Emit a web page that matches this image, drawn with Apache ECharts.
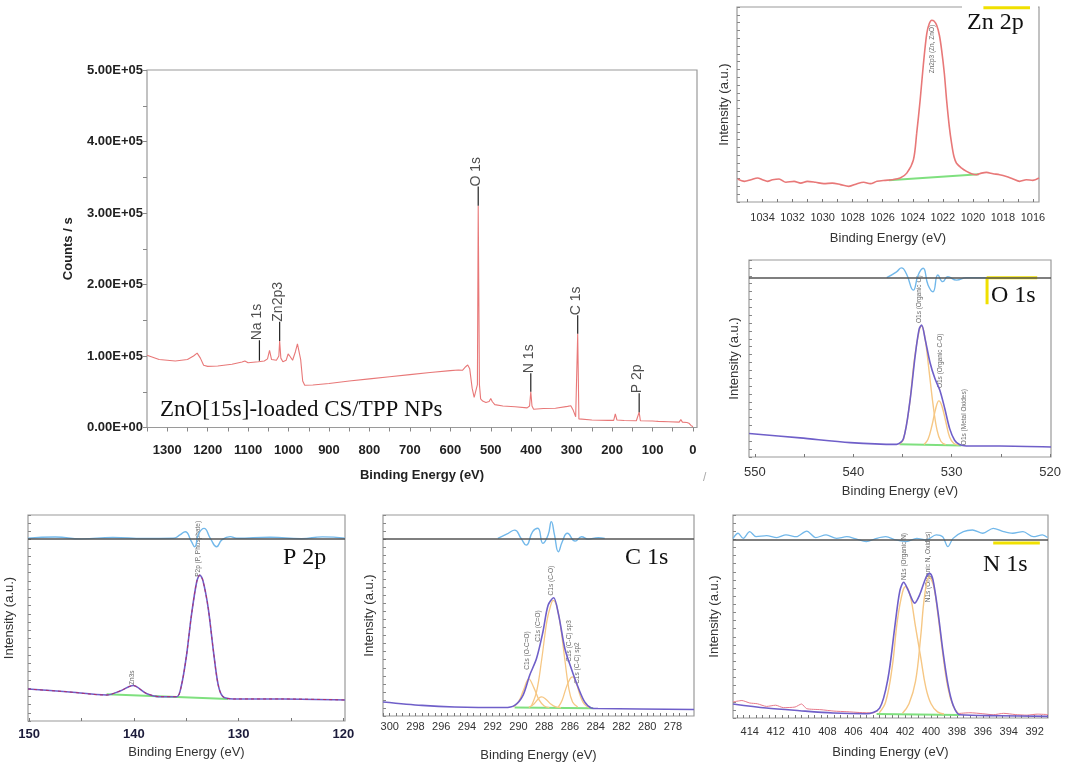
<!DOCTYPE html>
<html>
<head>
<meta charset="utf-8">
<script src="https://cdn.jsdelivr.net/npm/echarts@6/dist/echarts.min.js"></script>
<style>
  html, body { margin: 0; padding: 0; background: #fff; }
  #chart { width: 1065px; height: 766px; }
</style>
</head>
<body>
<div id="chart"></div>
<script>
// ---- survey spectrum (eV, counts/s) ----
const surveyData = [
  [1350, 101000], [1320, 95000], [1280, 93000], [1250, 95000], [1235, 100000], [1226, 104000],
  [1218, 97000], [1210, 87000], [1200, 85500], [1175, 86000], [1140, 88500], [1115, 91500],
  [1108, 93000], [1100, 90500], [1075, 92000], [1072, 93500], [1060, 93000], [1052, 96000],
  [1047, 108000], [1042, 95000], [1030, 94000], [1024, 100000], [1022, 121000], [1019, 97000],
  [1014, 92000], [1006, 94000], [1001, 103000], [997, 100000], [990, 94000], [983, 106000],
  [978, 117000], [974, 115000], [970, 95000], [965, 65000], [960, 59000], [940, 59500],
  [900, 61500], [850, 65000], [800, 68000], [750, 71000], [700, 74000], [650, 77000],
  [600, 79500], [580, 80500], [570, 80000], [562, 85000], [557, 87500], [552, 82000],
  [546, 55000], [541, 42000], [537, 40000], [533, 60000], [531, 310000], [528, 60000],
  [525, 40000], [520, 37000], [512, 35000], [504, 36500], [500, 40500], [496, 36000],
  [490, 32000], [470, 30000], [440, 29000], [410, 27500], [404, 30000], [401, 50000],
  [398, 30000], [394, 25500], [370, 26500], [340, 27000], [310, 29500], [302, 30500],
  [296, 24000], [290, 15000], [287, 14000], [285, 131000], [282, 12000], [278, 11000],
  [250, 10500], [210, 10000], [196, 10000], [192, 19000], [188, 10500], [170, 9800],
  [140, 9500], [136, 10500], [133, 21500], [130, 9500], [100, 9000], [92, 8800],
  [89, 10500], [86, 8500], [60, 8000], [34, 7500], [30, 11000], [26, 7500],
  [15, 7000], [10, 6000], [5, 3000], [0, 1000]
];
// peak markers: name, eV, line bottom, line top
const surveyMarks = [
  ['Na 1s', 1072, 93500, 122000],
  ['Zn2p3', 1022, 121000, 148000],
  ['O 1s', 531, 310000, 337000],
  ['N 1s', 401, 50000, 76000],
  ['C 1s', 285, 131000, 157000],
  ['P 2p', 133, 21500, 48000]
];
const surveyXTicks = [1300, 1200, 1100, 1000, 900, 800, 700, 600, 500, 400, 300, 200, 100, 0];
const surveyYTicks = [0, 100000, 200000, 300000, 400000, 500000];
const surveyYLabels = ['0.00E+00', '1.00E+05', '2.00E+05', '3.00E+05', '4.00E+05', '5.00E+05'];

// ---- Zn 2p ----
const znData = [
  [1035.66, 11.8], [1035.21, 10.6], [1034.77, 11.4], [1034.33, 12.3], [1034.0, 11.4], [1033.67, 10.6],
  [1033.34, 11.4], [1032.9, 11.8], [1032.45, 10.1], [1031.9, 10.6], [1031.46, 9.7], [1031.02, 10.6],
  [1030.47, 10.1], [1029.92, 9.4], [1029.36, 9.7], [1028.81, 8.9], [1028.26, 8.0], [1027.71, 9.4],
  [1027.27, 10.1], [1026.83, 9.4], [1026.38, 10.6], [1025.83, 11.1], [1025.39, 11.4], [1024.84, 12.3],
  [1024.4, 14.8], [1023.96, 21.6], [1023.74, 35.3], [1023.51, 52.3], [1023.29, 71], [1023.07, 86.4],
  [1022.9, 91.5], [1022.74, 93.2], [1022.59, 92.8], [1022.41, 90.6], [1022.23, 85.5], [1022.08, 77.9],
  [1021.9, 65.9], [1021.75, 52.3], [1021.57, 38.7], [1021.42, 30.2], [1021.26, 23.3], [1021.09, 19.9],
  [1020.75, 17.4], [1020.42, 15.7], [1020.09, 14.5], [1019.76, 14.0], [1019.43, 14.8], [1019.1, 15.2],
  [1018.66, 14.5], [1018.22, 14.0], [1017.77, 13.1], [1017.33, 11.8], [1016.89, 10.6], [1016.45, 11.4],
  [1016.01, 11.1], [1015.6, 12.3]
];
const znBase = [[1025.6, 11.2], [1019.6, 14.2]];
const znYellow = [[1019.3, 99.6], [1016.2, 99.6]];
const znXTicks = [1034, 1032, 1030, 1028, 1026, 1024, 1022, 1020, 1018, 1016];
const znLabels = [['Zn2p3 (Zn, ZnO)', 1022.6, 66]];

// ---- O 1s ----
const oEnvelope = [
  [550.58, 11.9], [545.4, 9.7], [540.3, 7.3], [535.6, 6.4], [534.9, 9.3], [534.25, 28],
  [533.7, 51.7], [533.3, 65], [533.05, 67], [532.7, 60], [532.2, 48], [531.7, 39.8],
  [531.2, 33.9], [530.7, 24.6], [530.2, 14.4], [529.7, 8.5], [529.2, 6.3], [528.5, 5.6],
  [525.1, 5.6], [519.9, 5.1]
];
const oComp1 = [
  [535.3, 6.5], [534.9, 9], [534.3, 26], [533.8, 49], [533.3, 64], [533.05, 66.5], [532.7, 60],
  [532.3, 44], [531.9, 27], [531.5, 14], [531.1, 8], [530.6, 6.3]
];
const oComp2 = [
  [532.8, 6.3], [532.4, 9], [532.0, 16], [531.6, 25], [531.3, 28.5], [531.0, 26], [530.6, 18],
  [530.2, 10], [529.8, 7], [529.3, 6]
];
const oBase = [[535.3, 6.5], [529.0, 5.8]];
const oResid = [
  [536.6, 91], [535.6, 94], [535.1, 96], [534.6, 93], [533.9, 84.7], [533.4, 92.4], [532.9, 95.8],
  [532.4, 87.3], [531.9, 83.9], [531.4, 92.4], [530.9, 89], [530.4, 91.5], [529.5, 89.8],
  [528.5, 91], [526.4, 91]
];
const oZero = 91;
const oYellow = [[526.4, 77.5], [526.4, 91], [521.3, 91]];
const oXTicks = [550, 540, 530, 520];
const oLabels = [['O1s (Organic O)', 533.05, 68], ['O1s (Organic C-O)', 531.0, 35], ['O1s (Metal Oxides)', 528.5, 6]];

// ---- P 2p ----
const pEnvelope = [
  [150.1, 15.5], [146.4, 14.2], [142.6, 12.6], [141.3, 14.6], [140.07, 17.2], [138.8, 13.4],
  [137.5, 11.8], [135.9, 11.8], [135.45, 17.5], [134.97, 32], [134.5, 51.5], [134.0, 67.6],
  [133.7, 70.9], [133.4, 68], [132.9, 54.7], [132.4, 33.7], [131.95, 17.5], [131.5, 11.8],
  [130.5, 10.7], [125.7, 10.7], [119.85, 10.2]
];
const pBase = [[142.6, 13], [131.0, 10.7]];
const pResid = [
  [150.1, 88.7], [147.5, 89.3], [145, 88.4], [142, 89.1], [139, 88.6], [136.25, 88.7],
  [135.6, 90.3], [135.1, 91.9], [134.5, 87.1], [134.2, 84.6], [133.8, 91], [133.3, 93.5],
  [132.7, 88.7], [132.1, 84.6], [131.6, 87.9], [130.8, 89.5], [130.2, 88.7], [127, 89.2],
  [124, 88.5], [122, 89.4], [119.85, 88.7]
];
const pZero = 88.7;
const pXTicks = [150, 140, 130, 120];
const pLabels = [['Zn3s', 140.0, 17.5], ['P2p (P, Phosphate)', 133.7, 70]];

// ---- C 1s ----
const cEnvelope = [
  [300.52, 7], [297.5, 5.3], [294.96, 4.5], [291.07, 4.2], [290.3, 5.3], [289.65, 10.3],
  [289.13, 20.3], [288.6, 28.6], [288.1, 41.9], [287.7, 55.1], [287.27, 58.8], [286.88, 50.2],
  [286.4, 33.6], [285.9, 23.6], [285.43, 15.3], [284.86, 7], [284.34, 4], [283.83, 3.7],
  [276.37, 3.2]
];
const cComp1 = [[290.4, 4.5], [290.0, 7], [289.6, 13], [289.2, 18.5], [288.8, 14], [288.4, 8], [288.0, 5], [287.6, 4.2]];
const cComp2 = [[289.2, 4.3], [288.8, 6], [288.4, 9], [288.2, 9.5], [287.9, 8.5], [287.5, 6], [287.1, 4.5], [286.7, 4.2]];
const cComp3 = [
  [289.0, 5], [288.6, 12], [288.2, 28], [287.8, 47], [287.5, 55], [287.3, 57.5], [287.0, 54],
  [286.7, 43], [286.4, 28], [286.1, 14], [285.8, 7], [285.4, 4.5]
];
const cComp4 = [[286.9, 4.5], [286.6, 8], [286.3, 14], [286.0, 18.5], [285.8, 19.5], [285.5, 16], [285.2, 10], [284.9, 6], [284.5, 4]];
const cBase = [[290.3, 4.2], [284.2, 3.8]];
const cResid = [
  [291.6, 88.4], [290.8, 90.9], [290.3, 92.5], [289.8, 88.4], [289.4, 85], [288.9, 91.7],
  [288.5, 93.4], [288.1, 85.9], [287.7, 90], [287.45, 96.7], [287.2, 90], [286.9, 81.7],
  [286.6, 86.7], [286.2, 90.9], [285.6, 87], [285.1, 89.2], [284.6, 88], [283.8, 88.7], [283.3, 88.4]
];
const cZero = 88.4;
const cXTicks = [300, 298, 296, 294, 292, 290, 288, 286, 284, 282, 280, 278];
const cLabels = [
  ['C1s (O-C=O)', 289.2, 23], ['C1s (C=O)', 288.3, 37], ['C1s (C-O)', 287.3, 60],
  ['C1s (C-C) sp3', 285.9, 27], ['C1s (C-C) sp2', 285.3, 16]
];

// ---- N 1s ----
const nEnvelope = [
  [415.29, 6.9], [412.72, 4.9], [410.14, 3.6], [407.57, 2.5], [405.0, 2.1], [403.97, 4.9],
  [403.32, 19.7], [402.81, 44.3], [402.42, 62.3], [402.11, 66.9], [401.78, 63.1], [401.26, 56.6],
  [400.88, 60.7], [400.36, 69.7], [400.11, 71.3], [399.85, 68], [399.47, 52.5], [399.08, 32.8],
  [398.69, 16.4], [398.31, 6.6], [397.79, 1.6], [394.7, 1.1], [390.97, 0.8]
];
// raw counts visible outside the peak (left and right tails)
const nRawLeft = [
  [415.29, 7.9], [414.6, 8.6], [414.0, 7.4], [413.4, 7.0], [412.7, 5.7], [412.0, 6.3], [411.4, 5.1],
  [410.5, 5.4], [410.0, 6.9], [409.6, 4.6], [408.5, 4.1], [407.5, 3.4], [406.5, 3.1], [405.5, 2.7],
  [404.5, 2.5], [404.1, 3.6]
];
const nRawRight = [
  [397.9, 2.2], [397.0, 2.6], [396.0, 2.1], [395.2, 1.6], [394.4, 2.3],
  [393.5, 1.7], [392.6, 1.4], [391.8, 1.9], [390.97, 1.7]
];
const nComp1 = [
  [404.0, 2.5], [403.5, 8], [403.0, 25], [402.6, 48], [402.2, 62], [401.95, 64.8], [401.6, 60],
  [401.2, 45], [400.8, 30], [400.4, 15], [400.0, 7], [399.5, 3], [399.0, 2]
];
const nComp2 = [
  [402.2, 2.3], [401.7, 7], [401.2, 18], [400.8, 40], [400.5, 60], [400.15, 69.5], [399.8, 65],
  [399.45, 50], [399.1, 32], [398.7, 15], [398.3, 6], [397.9, 2.2]
];
const nBase = [[404.2, 2.0], [397.8, 1.5]];
const nResid = [
  [415.29, 88.5], [414.9, 91.0], [414.5, 88.5], [414.0, 91.8], [413.5, 89.3], [412.7, 89.8],
  [411.9, 88.9], [411.2, 90.2], [410.4, 89.3], [409.6, 92.1], [408.9, 88.9], [408.1, 90.2],
  [407.3, 88.5], [406.5, 89.3], [405.8, 88.2], [405.0, 86.9], [404.2, 88.5], [403.5, 89.3],
  [402.7, 87.7], [401.9, 86.9], [401.1, 88.5], [400.4, 87.7], [399.6, 90.2], [399.1, 89.3],
  [398.7, 84.4], [398.3, 88.5], [397.5, 91.8], [396.8, 92.6], [396.0, 91.0], [395.2, 93.4],
  [394.4, 91.8], [393.7, 91.0], [392.9, 91.8], [392.1, 89.3], [391.4, 90.2], [391.0, 88.9]
];
const nZero = 87.7;
const nYellow = [[395.2, 86.2], [391.6, 86.2]];
const nXTicks = [414, 412, 410, 408, 406, 404, 402, 400, 398, 396, 394, 392];
const nLabels = [['N1s (Organic N)', 401.95, 68], ['N1s (Organic N, Oxides)', 400.1, 57]];

// ---- colours ----
const RED = '#e87878';
const GREEN = '#7fe07f';
const PURPLE = '#6f5fc9';
const ORANGE = '#f6c784';
const BLUE = '#72b8ea';
const ZERO = '#555';

function range(a, b, step) {
  const out = [];
  const n = Math.round((b - a) / step);
  for (let i = 0; i <= n; i++) out.push(+(a + i * step).toFixed(4));
  return out;
}

function line(idx, data, color, width, extra) {
  return Object.assign({
    type: 'line', xAxisIndex: idx, yAxisIndex: idx, data: data,
    symbol: 'none', showSymbol: false, silent: true, animation: false,
    lineStyle: { color: color, width: width }
  }, extra || {});
}

function zeroLine(idx, value) {
  return line(idx, [], ZERO, 1, {
    markLine: {
      silent: true, symbol: 'none', animation: false,
      label: { show: false },
      lineStyle: { color: ZERO, width: 1.6, type: 'solid' },
      data: [{ yAxis: value }]
    }
  });
}

function peakLabels(idx, list, size) {
  return {
    type: 'scatter', xAxisIndex: idx, yAxisIndex: idx, symbolSize: 0, silent: true, animation: false,
    data: list.map(([name, x, y]) => ({ name: name, value: [x, y] })),
    label: {
      show: true, formatter: '{b}', rotate: 90, position: [0, 0],
      align: 'left', verticalAlign: 'middle', offset: [0, -2],
      fontFamily: 'Arial', fontSize: size, color: '#444'
    }
  };
}

const grids = [
  { left: 147, top: 70, width: 550, height: 357.5 },
  { left: 737, top: 7, width: 302, height: 195 },
  { left: 749, top: 260, width: 302, height: 197 },
  { left: 28, top: 515, width: 317, height: 206 },
  { left: 383, top: 515, width: 311, height: 201 },
  { left: 733, top: 515, width: 315, height: 203 }
].map((g) => Object.assign({ show: true, borderColor: '#9a9a9a', borderWidth: 1.2, outerBoundsMode: 'none', containLabel: false }, g));

const plain = (v) => String(v);

function subX(idx, min, max, labels, ticks, opt) {
  return {
    type: 'value', gridIndex: idx, inverse: true, min: min, max: max,
    name: 'Binding Energy (eV)', nameLocation: 'middle', nameGap: opt.nameGap,
    nameTextStyle: { fontFamily: 'Arial', fontSize: 13, color: '#333' },
    axisLine: { show: false, onZero: false }, splitLine: { show: false },
    axisTick: { show: true, inside: true, length: 3, customValues: ticks, lineStyle: { color: '#777' } },
    axisLabel: {
      customValues: labels, margin: opt.margin, fontFamily: 'Arial', fontSize: opt.fontSize,
      fontWeight: opt.bold ? 'bold' : 'normal', color: opt.color || '#333', formatter: plain
    }
  };
}

function subY(idx, gap) {
  return {
    type: 'value', gridIndex: idx, min: 0, max: 100, interval: 4,
    name: 'Intensity (a.u.)', nameLocation: 'middle', nameGap: gap,
    nameTextStyle: { fontFamily: 'Arial', fontSize: 13, color: '#333' },
    axisLine: { show: false, onZero: false }, splitLine: { show: false },
    axisLabel: { show: false },
    axisTick: { show: true, inside: true, length: 3, lineStyle: { color: '#888' } }
  };
}

const xAxes = [
  {
    type: 'value', gridIndex: 0, inverse: true, min: -10, max: 1350,
    name: 'Binding Energy (eV)', nameLocation: 'middle', nameGap: 41,
    nameTextStyle: { fontFamily: 'Arial', fontSize: 13, fontWeight: 'bold', color: '#222' },
    axisLine: { show: false, onZero: false }, splitLine: { show: false },
    axisTick: { show: true, length: 4, customValues: range(0, 1350, 50), lineStyle: { color: '#888' } },
    axisLabel: { customValues: surveyXTicks, margin: 16, fontFamily: 'Arial', fontSize: 13, fontWeight: 'bold', color: '#222', formatter: plain }
  },
  subX(1, 1015.6, 1035.7, znXTicks, range(1016, 1035, 1), { nameGap: 30, margin: 10, fontSize: 11 }),
  subX(2, 519.9, 550.6, oXTicks, range(520, 550, 5), { nameGap: 28, margin: 9, fontSize: 13 }),
  subX(3, 119.85, 150.1, pXTicks, range(120, 150, 5), { nameGap: 25, margin: 7, fontSize: 13, bold: true, color: '#1b1b3a' }),
  subX(4, 276.37, 300.52, cXTicks, range(277, 300.5, 0.5), { nameGap: 33, margin: 5, fontSize: 11 }),
  subX(5, 390.97, 415.29, nXTicks, range(391, 415, 0.5), { nameGap: 28, margin: 8, fontSize: 11 })
];

const yAxes = [
  {
    type: 'value', gridIndex: 0, min: 0, max: 500000,
    name: 'Counts / s', nameLocation: 'middle', nameGap: 72,
    nameTextStyle: { fontFamily: 'Arial', fontSize: 13, fontWeight: 'bold', color: '#222' },
    axisLine: { show: false, onZero: false }, splitLine: { show: false },
    axisTick: { show: true, length: 4, customValues: range(0, 500000, 50000), lineStyle: { color: '#888' } },
    axisLabel: {
      customValues: surveyYTicks, margin: 4, fontFamily: 'Arial', fontSize: 13, fontWeight: 'bold', color: '#222',
      formatter: (v) => surveyYLabels[surveyYTicks.indexOf(v)]
    }
  },
  subY(1, 6), subY(2, 8), subY(3, 12), subY(4, 7), subY(5, 12)
];

const series = [
  // survey
  line(0, surveyData, RED, 1.1),
  ...surveyMarks.map(([name, x, y0, y1]) => line(0, [[x, y0], [x, y1]], '#222', 1.2)),
  {
    type: 'scatter', xAxisIndex: 0, yAxisIndex: 0, symbolSize: 0, silent: true, animation: false,
    data: surveyMarks.map(([name, x, y0, y1]) => ({ name: name, value: [x, y1] })),
    label: {
      show: true, formatter: '{b}', rotate: 90, position: [0, 0], align: 'left', verticalAlign: 'middle',
      offset: [0, -2], fontFamily: 'Arial', fontSize: 14, color: '#222'
    }
  },
  // Zn 2p
  line(1, znBase, GREEN, 2),
  line(1, znData, RED, 1.6, { smooth: 0.3 }),
  line(1, znYellow, '#f0e000', 3),
  peakLabels(1, znLabels, 6.5),
  // O 1s
  line(2, oBase, GREEN, 2),
  line(2, oComp1, ORANGE, 1.4, { smooth: 0.4 }),
  line(2, oComp2, ORANGE, 1.4, { smooth: 0.4 }),
  line(2, oEnvelope, PURPLE, 1.6, { smooth: 0.3 }),
  zeroLine(2, oZero),
  line(2, oResid, BLUE, 1.4, { smooth: 0.5 }),
  line(2, oYellow, '#f0e000', 3),
  peakLabels(2, oLabels, 6.5),
  // P 2p
  line(3, pBase, GREEN, 2),
  line(3, pEnvelope, PURPLE, 1.6, { smooth: 0.3 }),
  line(3, pEnvelope, '#b0306e', 1, { smooth: 0.3, lineStyle: { color: '#b0306e', width: 1, type: [3, 3] } }),
  zeroLine(3, pZero),
  line(3, pResid, BLUE, 1.4, { smooth: 0.5 }),
  peakLabels(3, pLabels, 6.5),
  // C 1s
  line(4, cBase, GREEN, 2),
  line(4, cComp1, ORANGE, 1.3, { smooth: 0.4 }),
  line(4, cComp2, ORANGE, 1.3, { smooth: 0.4 }),
  line(4, cComp3, ORANGE, 1.3, { smooth: 0.4 }),
  line(4, cComp4, ORANGE, 1.3, { smooth: 0.4 }),
  line(4, cEnvelope, PURPLE, 1.6, { smooth: 0.3 }),
  zeroLine(4, cZero),
  line(4, cResid, BLUE, 1.4, { smooth: 0.5 }),
  peakLabels(4, cLabels, 6.5),
  // N 1s
  line(5, nBase, GREEN, 2),
  line(5, nRawLeft, '#e87a8a', 1, { smooth: 0.2 }),
  line(5, nRawRight, '#e87a8a', 1, { smooth: 0.2 }),
  line(5, nComp1, ORANGE, 1.4, { smooth: 0.4 }),
  line(5, nComp2, ORANGE, 1.4, { smooth: 0.4 }),
  line(5, nEnvelope, PURPLE, 1.6, { smooth: 0.3 }),
  zeroLine(5, nZero),
  line(5, nResid, BLUE, 1.3, { smooth: 0.3 }),
  line(5, nYellow, '#f0e000', 3),
  peakLabels(5, nLabels, 6.5)
];

const serif = '"Liberation Serif", "Times New Roman", serif';
const graphic = [
  { type: 'text', left: 160, top: 398, silent: true, style: { text: 'ZnO[15s]-loaded CS/TPP NPs', font: '23px ' + serif, fill: '#111' } },
  { type: 'rect', shape: { x: 962, y: 5, width: 76, height: 30 }, silent: true, style: { fill: '#fff' } },
  { type: 'text', left: 967, top: 11, silent: true, style: { text: 'Zn 2p', font: '24px ' + serif, fill: '#111' } },
  { type: 'rect', shape: { x: 988, y: 280, width: 50, height: 26 }, silent: true, style: { fill: '#fff' } },
  { type: 'text', left: 991, top: 284, silent: true, style: { text: 'O 1s', font: '24px ' + serif, fill: '#111' } },
  { type: 'text', left: 283, top: 546, silent: true, style: { text: 'P 2p', font: '24px ' + serif, fill: '#111' } },
  { type: 'text', left: 625, top: 546, silent: true, style: { text: 'C 1s', font: '24px ' + serif, fill: '#111' } },
  { type: 'text', left: 983, top: 553, silent: true, style: { text: 'N 1s', font: '24px ' + serif, fill: '#111' } },
  { type: 'text', left: 703, top: 472, silent: true, style: { text: '/', font: '12px Arial', fill: '#aaa' } }
];

const chart = echarts.init(document.getElementById('chart'));
chart.setOption({
  backgroundColor: '#fff',
  animation: false,
  grid: grids,
  xAxis: xAxes,
  yAxis: yAxes,
  series: series,
  graphic: graphic
});
</script>
</body>
</html>
